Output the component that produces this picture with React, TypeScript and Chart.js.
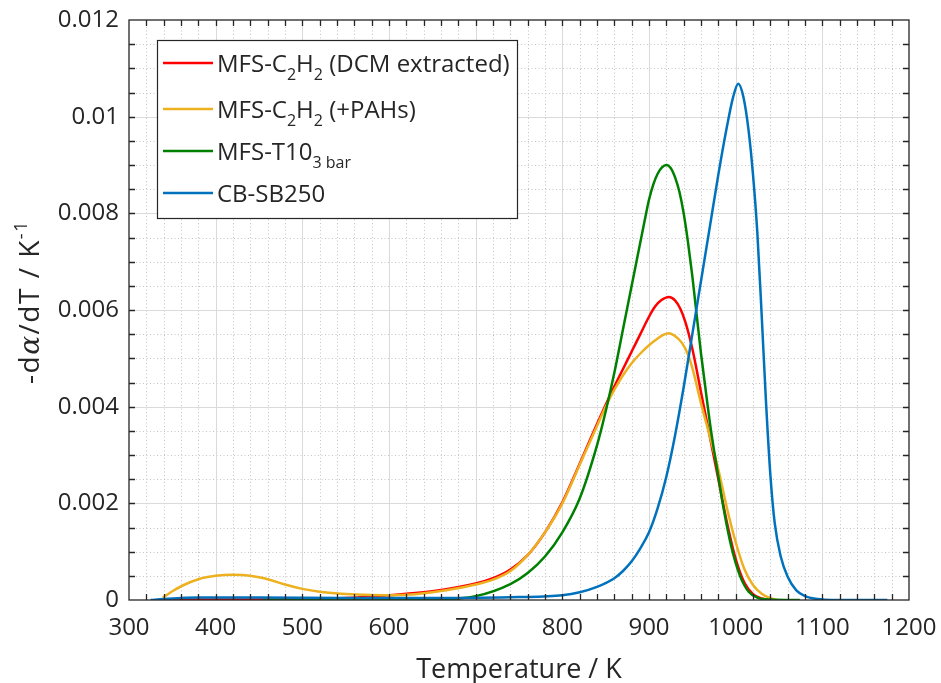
import { useEffect, useRef } from 'react';
import { Chart, registerables } from 'chart.js';

Chart.register(...registerables);

// ---------- data ----------
const T_DCM = [340, 400, 450, 500, 550, 600, 650, 700, 720, 740, 760, 780, 800, 820, 840, 860, 870, 880, 890, 900, 907, 914, 923, 930, 936, 942, 950, 960, 970, 980, 990, 1000, 1010, 1020, 1030, 1040];
const V_DCM = [0.00001, 0.00001, 0.00001, 0.00002, 0.00004, 0.0001, 0.00018, 0.00034, 0.00045, 0.00063, 0.00093, 0.0014, 0.00202, 0.00282, 0.00364, 0.00442, 0.00478, 0.00514, 0.0055, 0.00586, 0.00607, 0.0062, 0.00627, 0.0062, 0.00603, 0.00575, 0.0052, 0.0043, 0.0034, 0.0025, 0.0016, 0.00085, 0.00036, 0.00012, 0.00003, 0];

const T_PAH = [339, 350, 362, 380, 400, 420, 440, 462, 480, 500, 520, 545, 570, 600, 630, 666, 700, 720, 740, 760, 780, 800, 820, 840, 850, 860, 870, 880, 890, 900, 910, 917, 923, 930, 938, 945, 950, 961, 970, 980, 990, 1000, 1010, 1020, 1030, 1040, 1048];
const V_PAH = [0.00005, 0.00018, 0.0003, 0.00043, 0.0005, 0.00052, 0.0005, 0.00042, 0.00032, 0.00023, 0.00017, 0.00013, 0.00011, 0.0001, 0.00012, 0.0002, 0.00032, 0.00042, 0.0006, 0.00093, 0.0014, 0.002, 0.0028, 0.0036, 0.004, 0.00435, 0.00465, 0.0049, 0.0051, 0.00527, 0.00541, 0.00549, 0.00552, 0.00546, 0.00532, 0.00508, 0.0048, 0.004, 0.0034, 0.0027, 0.0019, 0.0012, 0.00064, 0.00031, 0.00013, 0.00004, 0];

const T_T10 = [455, 500, 550, 600, 655, 700, 740, 760, 780, 800, 820, 840, 850, 860, 870, 880, 890, 895, 900, 905, 910, 915, 920, 925, 930, 935, 940, 945, 950, 955, 960, 965, 970, 975, 981, 985, 995, 1005, 1015, 1025, 1040, 1074];
const V_T10 = [0, 0, 0, 0, 0.00001, 0.00008, 0.00033, 0.00056, 0.0009, 0.0014, 0.0021, 0.0032, 0.0039, 0.0047, 0.0056, 0.0065, 0.0074, 0.00785, 0.00828, 0.0086, 0.00882, 0.00895, 0.009, 0.00894, 0.00875, 0.00845, 0.008, 0.0074, 0.0067, 0.0059, 0.0051, 0.0044, 0.0037, 0.0031, 0.00245, 0.002, 0.0011, 0.0005, 0.00017, 0.00005, 0.00001, 0];

const T_CB = [325, 340, 380, 450, 550, 650, 750, 800, 820, 840, 860, 870, 880, 890, 900, 910, 920, 930, 940, 950, 960, 970, 980, 990, 997, 1003, 1009, 1015, 1020, 1025, 1030, 1035, 1040, 1045, 1052, 1060, 1070, 1080, 1095, 1110, 1175];
const V_CB = [0, 0.00002, 0.00005, 0.00005, 0.00004, 0.00004, 0.00006, 0.0001, 0.00016, 0.00027, 0.00045, 0.0006, 0.0008, 0.00107, 0.0014, 0.0019, 0.00255, 0.0034, 0.0044, 0.0055, 0.0066, 0.0077, 0.0088, 0.0098, 0.0104, 0.01068, 0.0104, 0.0097, 0.0088, 0.0076, 0.0059, 0.0041, 0.0026, 0.0016, 0.0009, 0.00048, 0.0002, 0.00008, 0.00002, 0, 0];

const X_MIN = 300, X_MAX = 1200, X_MAJOR = 100, X_MINOR = 20;
const Y_MIN = 0, Y_MAX = 0.012, Y_MAJOR = 0.002, Y_MINOR = 0.0005;

const COLORS = { dcm: '#FF0000', pah: '#EDB120', t10: '#008000', cb: '#0072BD' };
const FONT = '"Open Sans", "Noto Sans", sans-serif';
const TEXT = '#262626';

type Seg = { t: string; sub?: boolean };
const LEGEND: { color: string; segs: Seg[] }[] = [
  { color: COLORS.dcm, segs: [{ t: 'MFS-C' }, { t: '2', sub: true }, { t: 'H' }, { t: '2', sub: true }, { t: ' (DCM extracted)' }] },
  { color: COLORS.pah, segs: [{ t: 'MFS-C' }, { t: '2', sub: true }, { t: 'H' }, { t: '2', sub: true }, { t: ' (+PAHs)' }] },
  { color: COLORS.t10, segs: [{ t: 'MFS-T10' }, { t: '3 bar', sub: true }] },
  { color: COLORS.cb, segs: [{ t: 'CB-SB250' }] },
];

const pts = (t: number[], v: number[]) => t.map((x, i) => ({ x, y: v[i] }));

const decorPlugin = {
  id: 'decor',
  beforeDatasetsDraw(chart: any) {
    const { ctx, chartArea: a, scales } = chart;
    const xs = scales.x, ys = scales.y;
    ctx.save();
    ctx.strokeStyle = '#c4c4c4';
    ctx.lineWidth = 1;
    ctx.setLineDash([1, 2.5]);
    ctx.beginPath();
    for (let v = X_MIN + X_MINOR; v < X_MAX; v += X_MINOR) {
      if (Math.abs(v % X_MAJOR) < 1e-6) continue;
      const px = Math.round(xs.getPixelForValue(v)) + 0.5;
      ctx.moveTo(px, a.top); ctx.lineTo(px, a.bottom);
    }
    for (let i = 1; i < Math.round((Y_MAX - Y_MIN) / Y_MINOR); i++) {
      if (i % Math.round(Y_MAJOR / Y_MINOR) === 0) continue;
      const py = Math.round(ys.getPixelForValue(Y_MIN + i * Y_MINOR)) + 0.5;
      ctx.moveTo(a.left, py); ctx.lineTo(a.right, py);
    }
    ctx.stroke();
    ctx.setLineDash([]);
    ctx.strokeStyle = '#dadada';
    ctx.beginPath();
    for (let v = X_MIN + X_MAJOR; v < X_MAX; v += X_MAJOR) {
      const px = Math.round(xs.getPixelForValue(v)) + 0.5;
      ctx.moveTo(px, a.top); ctx.lineTo(px, a.bottom);
    }
    for (let i = 1; i < Math.round((Y_MAX - Y_MIN) / Y_MAJOR); i++) {
      const py = Math.round(ys.getPixelForValue(Y_MIN + i * Y_MAJOR)) + 0.5;
      ctx.moveTo(a.left, py); ctx.lineTo(a.right, py);
    }
    ctx.stroke();
    ctx.restore();
  },
  afterDatasetsDraw(chart: any) {
    const { ctx, chartArea: a, scales } = chart;
    const xs = scales.x, ys = scales.y;
    ctx.save();
    ctx.strokeStyle = TEXT;
    ctx.lineWidth = 1.3;
    ctx.setLineDash([]);
    ctx.strokeRect(a.left, a.top, a.right - a.left, a.bottom - a.top);
    const tl = 6;
    ctx.beginPath();
    for (let v = X_MIN + X_MINOR; v < X_MAX; v += X_MINOR) {
      const px = Math.round(xs.getPixelForValue(v)) + 0.5;
      ctx.moveTo(px, a.bottom); ctx.lineTo(px, a.bottom - tl);
      ctx.moveTo(px, a.top); ctx.lineTo(px, a.top + tl);
    }
    for (let i = 1; i < Math.round((Y_MAX - Y_MIN) / Y_MINOR); i++) {
      const py = Math.round(ys.getPixelForValue(Y_MIN + i * Y_MINOR)) + 0.5;
      ctx.moveTo(a.left, py); ctx.lineTo(a.left + tl, py);
      ctx.moveTo(a.right, py); ctx.lineTo(a.right - tl, py);
    }
    ctx.stroke();

    // y axis title with superscript
    ctx.fillStyle = TEXT;
    ctx.textBaseline = 'alphabetic';
    (ctx as any).letterSpacing = '1.5px';
    const parts: { t: string; font: string; dy: number }[] = [
      { t: '-d', font: `28px ${FONT}`, dy: 0 },
      { t: 'α', font: `italic 28px "DejaVu Serif", serif`, dy: 0 },
      { t: '/dT / K', font: `28px ${FONT}`, dy: 0 },
      { t: '-1', font: `18px ${FONT}`, dy: -12 },
    ];
    let total = 0;
    parts.forEach(p => { ctx.font = p.font; total += ctx.measureText(p.t).width; });
    ctx.translate(39, 302);
    ctx.rotate(-Math.PI / 2);
    let cx = -total / 2;
    parts.forEach(p => { ctx.font = p.font; ctx.fillText(p.t, cx, p.dy); cx += ctx.measureText(p.t).width; });
    ctx.restore();

    // legend
    ctx.save();
    const bx = 157.5, by = 40.5, bw = 360, bh = 178;
    ctx.fillStyle = '#ffffff';
    ctx.fillRect(bx, by, bw, bh);
    ctx.strokeStyle = TEXT;
    ctx.lineWidth = 1.2;
    ctx.strokeRect(bx, by, bw, bh);
    const rows = [63, 109, 151, 193];
    LEGEND.forEach((item, i) => {
      const y = rows[i];
      ctx.strokeStyle = item.color;
      ctx.lineWidth = 2.5;
      ctx.beginPath(); ctx.moveTo(163, y); ctx.lineTo(213, y); ctx.stroke();
      let x = 217;
      ctx.fillStyle = TEXT;
      ctx.textBaseline = 'alphabetic';
      item.segs.forEach(s => {
        ctx.font = s.sub ? `16px ${FONT}` : `24px ${FONT}`;
        ctx.fillText(s.t, x, y + (s.sub ? 17 : 8.5));
        x += ctx.measureText(s.t).width;
      });
    });
    ctx.restore();
  },
};

export default function App() {
  const ref = useRef<HTMLCanvasElement>(null);
  useEffect(() => {
    if (!ref.current) return;
    const mk = (label: string, t: number[], v: number[], color: string, order: number) => ({
      label, data: pts(t, v), borderColor: color, backgroundColor: color, borderWidth: 2.5,
      pointRadius: 0, fill: false, cubicInterpolationMode: 'monotone' as const, order,
    });
    const chart = new Chart(ref.current, {
      type: 'line',
      data: {
        datasets: [
          mk('MFS-C2H2 (DCM extracted)', T_DCM, V_DCM, COLORS.dcm, 4),
          mk('MFS-C2H2 (+PAHs)', T_PAH, V_PAH, COLORS.pah, 3),
          mk('MFS-T10 3 bar', T_T10, V_T10, COLORS.t10, 2),
          mk('CB-SB250', T_CB, V_CB, COLORS.cb, 1),
        ],
      },
      options: {
        responsive: false,
        animation: false,
        layout: { padding: { left: 0, right: 32, top: 20, bottom: 0 } },
        plugins: { legend: { display: false }, tooltip: { enabled: false } },
        scales: {
          x: {
            type: 'linear', min: X_MIN, max: X_MAX,
            ticks: {
              stepSize: X_MAJOR, color: TEXT, font: { family: FONT, size: 24 }, padding: 14, maxRotation: 0,
              callback: (v: any) => String(v),
            },
            grid: { display: false, drawTicks: false },
            border: { display: false },
            title: { display: true, text: 'Temperature / K', color: TEXT, font: { family: FONT, size: 27 }, padding: { top: 0, bottom: -4 } },
            afterFit: (s: any) => { s.height = 83; s.paddingLeft = 0; s.paddingRight = 0; },
          },
          y: {
            type: 'linear', min: Y_MIN, max: Y_MAX,
            ticks: {
              stepSize: Y_MAJOR, color: TEXT, font: { family: FONT, size: 24 }, padding: 10,
              callback: (v: any) => String(Math.round(Number(v) * 1e4) / 1e4),
            },
            grid: { display: false, drawTicks: false },
            border: { display: false },
            afterFit: (s: any) => { s.width = 129; s.paddingTop = 0; s.paddingBottom = 0; },
          },
        },
      },
      plugins: [decorPlugin],
    } as any);
    return () => chart.destroy();
  }, []);
  return (
    <div style={{ position: 'absolute', left: 0, top: 0, width: 941, height: 683, background: '#fff' }}>
      <canvas ref={ref} width={941} height={683} />
    </div>
  );
}
